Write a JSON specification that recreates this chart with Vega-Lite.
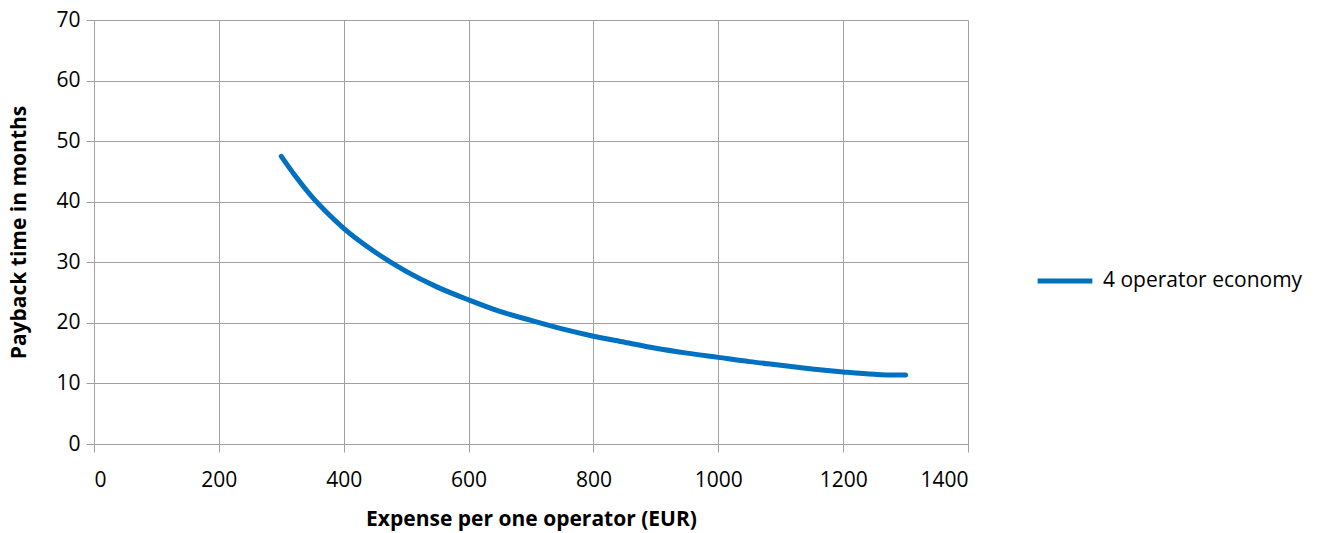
{
  "$schema": "https://vega.github.io/schema/vega-lite/v6.json",
  "width": 874,
  "height": 424,
  "autosize": {"type": "none"},
  "padding": {"left": 94, "top": 20, "right": 369, "bottom": 89},
  "background": "white",
  "config": {
    "view": {"stroke": null},
    "font": "Open Sans"
  },
  "data": {
    "values": [
      {"expense": 300, "months": 47.5, "series": "4 operator economy"},
      {"expense": 325, "months": 43.9, "series": "4 operator economy"},
      {"expense": 350, "months": 40.7, "series": "4 operator economy"},
      {"expense": 375, "months": 38.0, "series": "4 operator economy"},
      {"expense": 400, "months": 35.6, "series": "4 operator economy"},
      {"expense": 450, "months": 31.7, "series": "4 operator economy"},
      {"expense": 500, "months": 28.5, "series": "4 operator economy"},
      {"expense": 550, "months": 25.9, "series": "4 operator economy"},
      {"expense": 600, "months": 23.8, "series": "4 operator economy"},
      {"expense": 650, "months": 21.9, "series": "4 operator economy"},
      {"expense": 700, "months": 20.4, "series": "4 operator economy"},
      {"expense": 750, "months": 19.0, "series": "4 operator economy"},
      {"expense": 800, "months": 17.8, "series": "4 operator economy"},
      {"expense": 850, "months": 16.8, "series": "4 operator economy"},
      {"expense": 900, "months": 15.8, "series": "4 operator economy"},
      {"expense": 950, "months": 15.0, "series": "4 operator economy"},
      {"expense": 1000, "months": 14.3, "series": "4 operator economy"},
      {"expense": 1050, "months": 13.6, "series": "4 operator economy"},
      {"expense": 1100, "months": 13.0, "series": "4 operator economy"},
      {"expense": 1150, "months": 12.4, "series": "4 operator economy"},
      {"expense": 1200, "months": 11.9, "series": "4 operator economy"},
      {"expense": 1250, "months": 11.5, "series": "4 operator economy"},
      {"expense": 1275, "months": 11.4, "series": "4 operator economy"},
      {"expense": 1300, "months": 11.4, "series": "4 operator economy"}
    ]
  },
  "mark": {"type": "line", "strokeWidth": 5, "strokeCap": "round", "interpolate": "monotone"},
  "encoding": {
    "x": {
      "field": "expense",
      "type": "quantitative",
      "scale": {"domain": [0, 1400], "nice": false},
      "axis": {
        "values": [0, 200, 400, 600, 800, 1000, 1200, 1400],
        "format": "d",
        "title": "Expense per one operator  (EUR)",
        "titleFont": "Open Sans",
        "titleFontSize": 21,
        "titleFontWeight": "bold",
        "titleColor": "#000000",
        "titlePadding": 18,
        "labelFontSize": 21,
        "labelColor": "#000000",
        "labelPadding": 17,
        "labelFontWeight": "normal",
        "tickSize": 8,
        "tickColor": "#a0a0a0",
        "domainColor": "#a0a0a0",
        "gridColor": "#a0a0a0",
        "grid": true
      }
    },
    "y": {
      "field": "months",
      "type": "quantitative",
      "scale": {"domain": [0, 70], "nice": false},
      "axis": {
        "values": [0, 10, 20, 30, 40, 50, 60, 70],
        "format": "d",
        "title": "Payback time in months",
        "titleFont": "Open Sans",
        "titleFontSize": 21,
        "titleFontWeight": "bold",
        "titleColor": "#000000",
        "titlePadding": 26,
        "labelFontSize": 21,
        "labelColor": "#000000",
        "labelPadding": 6,
        "tickSize": 8,
        "tickColor": "#a0a0a0",
        "domainColor": "#a0a0a0",
        "gridColor": "#a0a0a0",
        "grid": true
      }
    },
    "color": {
      "field": "series",
      "type": "nominal",
      "scale": {"range": ["#0070C0"]},
      "legend": {
        "title": null,
        "orient": "none",
        "legendX": 941,
        "legendY": 231,
        "symbolType": "stroke",
        "symbolStrokeWidth": 5,
        "symbolSize": 3000,
        "labelFontSize": 21,
        "labelLimit": 0,
        "labelColor": "#000000",
        "labelOffset": 8
      }
    }
  }
}
